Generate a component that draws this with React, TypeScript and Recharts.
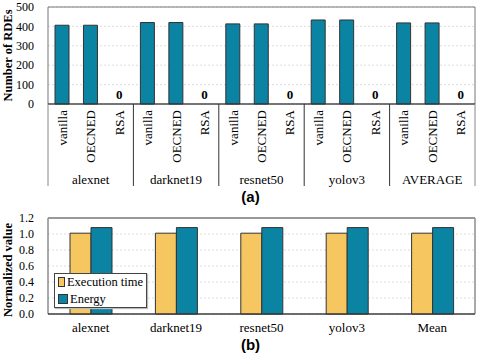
import React from "react";
import {
  Bar,
  BarChart,
  CartesianGrid,
  Legend,
  ReferenceArea,
  ReferenceLine,
  XAxis,
  YAxis,
} from "recharts";

const groups = ["alexnet", "darknet19", "resnet50", "yolov3", "AVERAGE"];
const methods = ["vanilla", "OECNED", "RSA"];
const rdeCounts = [
  [406, 406, 0],
  [420, 420, 0],
  [413, 413, 0],
  [433, 433, 0],
  [418, 418, 0],
];
const rdeTicks = [0, 100, 200, 300, 400, 500];

const normCategories = ["alexnet", "darknet19", "resnet50", "yolov3", "Mean"];
const seriesNames = ["Execution time", "Energy"];
const execTime = [1.01, 1.01, 1.01, 1.01, 1.01];
const energy = [1.08, 1.08, 1.08, 1.08, 1.08];
const normTicks = [0, 0.2, 0.4, 0.6, 0.8, 1.0, 1.2];

const TEAL = "#0b83a2";
const YELLOW = "#f6c760";
const SERIF = "'Liberation Serif', 'Times New Roman', serif";

const W = 479;
const Y_AXIS_W = 48;
const RIGHT = 4;
const PLOT_W = W - Y_AXIS_W - RIGHT;

const rdeData = groups.flatMap((g, gi) =>
  methods.map((m, mi) => ({ group: g, method: m, value: rdeCounts[gi][mi] }))
);

const normData = normCategories.map((name, i) => ({
  name,
  exec: execTime[i],
  energy: energy[i],
}));

const step = PLOT_W / rdeData.length;

// method label (rotated), group name under the middle one, separators,
// and the "0" value label for empty bars (recharts skips zero-height bar labels)
function MethodTick(props: any) {
  const { x, y, payload } = props;
  const i = payload.index;
  const row = rdeData[i];
  const lines: React.ReactNode[] = [];
  if (i % methods.length === 0) {
    const lx = x - step / 2;
    lines.push(
      <line key="l" x1={lx} x2={lx} y1={y} y2={y + 82} stroke={i === 0 ? "#888" : "#333"} />
    );
  }
  if (i === rdeData.length - 1) {
    const rx = x + step / 2;
    lines.push(<line key="r" x1={rx} x2={rx} y1={y} y2={y + 82} stroke="#888" />);
  }
  return (
    <g>
      {row.value === 0 && (
        <text
          x={x}
          y={y - 5}
          textAnchor="middle"
          fontSize={13}
          fontWeight="bold"
          fontFamily={SERIF}
          fill="#000"
        >
          {row.value}
        </text>
      )}
      <text
        x={x}
        y={y + 6}
        transform={`rotate(-90 ${x} ${y + 6})`}
        textAnchor="end"
        dominantBaseline="central"
        fontSize={13}
        fontFamily={SERIF}
        fill="#000"
      >
        {payload.value}
      </text>
      {i % methods.length === 1 && (
        <text x={x} y={y + 80} textAnchor="middle" fontSize={13} fontFamily={SERIF} fill="#000">
          {row.group}
        </text>
      )}
      {lines}
    </g>
  );
}

function yTitle(text: string, shift: number) {
  return (props: any) => {
    const vb = props.viewBox;
    const cx = 8;
    const cy = vb.y + vb.height / 2 + shift;
    return (
      <text
        x={cx}
        y={cy}
        transform={`rotate(-90 ${cx} ${cy})`}
        textAnchor="middle"
        dominantBaseline="central"
        fontSize={12.5}
        fontWeight="bold"
        fontFamily={SERIF}
        fill="#000"
      >
        {text}
      </text>
    );
  };
}

function LegendBox(props: any) {
  const items = [...(props.payload || [])].sort(
    (a: any, b: any) => seriesNames.indexOf(a.value) - seriesNames.indexOf(b.value)
  );
  return (
    <div
      style={{
        width: 93,
        height: 35,
        boxSizing: "border-box",
        border: "1px solid #444",
        background: "#fff",
        boxShadow: "1px 1px 1px #bbb",
        padding: "0 3px",
        fontFamily: SERIF,
        fontSize: 12.5,
        lineHeight: "16.5px",
        color: "#000",
      }}
    >
      {items.map((it: any) => (
        <div key={it.value} style={{ display: "flex", alignItems: "center", whiteSpace: "nowrap" }}>
          <span
            style={{
              display: "inline-block",
              width: 8,
              height: 8,
              background: it.color,
              border: "1px solid #333",
              marginRight: 2,
            }}
          />
          {it.value}
        </div>
      ))}
    </div>
  );
}

const tickStyle = { fontSize: 12, fill: "#000", fontFamily: SERIF };

const captionStyle: React.CSSProperties = {
  position: "absolute",
  left: 0,
  width: W,
  textAlign: "center",
  fontFamily: "'Liberation Sans', Arial, sans-serif",
  fontWeight: "bold",
  fontSize: 15,
  lineHeight: "20px",
  paddingLeft: 22,
  boxSizing: "border-box",
};

export default function App() {
  return (
    <div
      style={{
        position: "absolute",
        left: 0,
        top: 0,
        width: W,
        height: 359,
        background: "#fff",
        fontFamily: SERIF,
      }}
    >
      <div style={{ position: "absolute", left: 0, top: 0 }}>
        <BarChart
          width={W}
          height={190}
          data={rdeData}
          margin={{ top: 7, right: RIGHT, bottom: 0, left: 0 }}
        >
          <CartesianGrid vertical={false} stroke="#dddddd" strokeDasharray="2 2" />
          <ReferenceArea y1={0} y2={500} fill="none" stroke="#777" strokeWidth={1} />
          <XAxis
            dataKey="method"
            height={86}
            interval={0}
            tickLine={false}
            tickSize={0}
            tickMargin={0}
            axisLine={{ stroke: "#333" }}
            tick={<MethodTick />}
          />
          <YAxis
            width={Y_AXIS_W}
            domain={[0, 500]}
            ticks={rdeTicks}
            interval={0}
            axisLine={false}
            tickLine={false}
            tickSize={6}
            tickMargin={8}
            tick={tickStyle}
            label={{ content: yTitle("Number of RDEs", 0) }}
          />
          <Bar dataKey="value" fill={TEAL} stroke="#333" strokeWidth={1} barSize={14} isAnimationActive={false} />
        </BarChart>
      </div>

      <div style={{ ...captionStyle, top: 187 }}>(a)</div>

      <div style={{ position: "absolute", left: 0, top: 205 }}>
        <BarChart
          width={W}
          height={135}
          data={normData}
          barGap={0}
          margin={{ top: 13, right: RIGHT, bottom: 0, left: 0 }}
        >
          <CartesianGrid vertical={false} stroke="#dddddd" strokeDasharray="2 2" />
          <ReferenceArea y1={0} y2={1.2} fill="none" stroke="#555" strokeWidth={1} />
          <ReferenceLine y={1.2} stroke="#999" strokeWidth={2} />
          <XAxis
            dataKey="name"
            height={26}
            interval={0}
            tickLine={false}
            tickSize={6}
            tickMargin={3}
            axisLine={{ stroke: "#333" }}
            tick={{ fontSize: 13, fill: "#000", fontFamily: SERIF }}
          />
          <YAxis
            width={Y_AXIS_W}
            domain={[0, 1.2]}
            ticks={normTicks}
            interval={0}
            axisLine={false}
            tickLine={false}
            tickSize={6}
            tickMargin={8}
            tick={tickStyle}
            tickFormatter={(v: number) => v.toFixed(1)}
            label={{ content: yTitle("Normalized value", 4) }}
          />
          <Legend
            layout="horizontal"
            verticalAlign="middle"
            align="center"
            content={<LegendBox />}
            wrapperStyle={{ left: 54, top: 68, width: 93, height: 35 }}
          />
          <Bar dataKey="exec" name={seriesNames[0]} fill={YELLOW} stroke="#333" barSize={21} isAnimationActive={false} />
          <Bar dataKey="energy" name={seriesNames[1]} fill={TEAL} stroke="#333" barSize={21} isAnimationActive={false} />
        </BarChart>
      </div>

      <div style={{ ...captionStyle, top: 335 }}>(b)</div>
    </div>
  );
}
